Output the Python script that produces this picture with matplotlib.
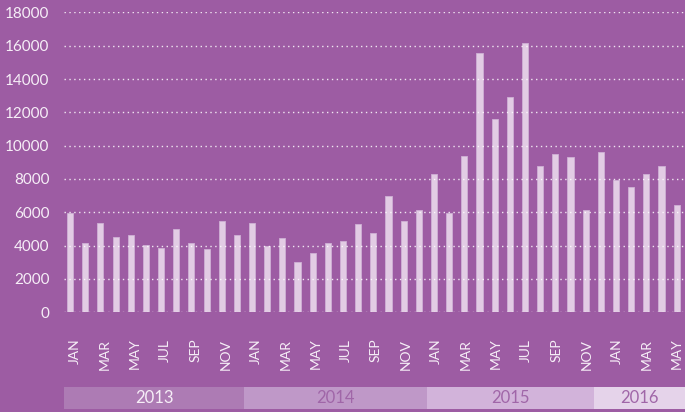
import matplotlib
matplotlib.use("Agg")
import matplotlib.pyplot as plt
import matplotlib.transforms as mtransforms

# monthly values, Jan 2013 .. May 2016
values = [5950, 4150, 5380, 4540, 4620, 4060, 3860, 5000, 4150, 3780, 5460, 4620,
          5380, 3980, 4440, 3020, 3580, 4140, 4260, 5280, 4740, 6960, 5480, 6120,
          8300, 5940, 9400, 15540, 11580, 12900, 16180, 8760, 9520, 9320, 6120,
          9600, 7920, 7540, 8300, 8760, 6420]
month_names = ["JAN", "FEB", "MAR", "APR", "MAY", "JUN",
               "JUL", "AUG", "SEP", "OCT", "NOV", "DEC"]
years = ["2013", "2014", "2015", "2016"]
y_ticks = [0, 2000, 4000, 6000, 8000, 10000, 12000, 14000, 16000, 18000]

# layout / style
bg = "#9d5ca3"
bar_color = "#e2cce4"
band_colors = ["#ad7bb4", "#bf98c8", "#d2b3da", "#e5d3ea"]
band_text = ["#f6eef7", "#a066a8", "#a066a8", "#a066a8"]
band_edges = [-0.4, 11.47, 23.53, 34.54, 40.6]

plt.rcParams["font.family"] = ["Lato", "DejaVu Sans"]

fig = plt.figure(figsize=(6.85, 4.12), dpi=100, facecolor=bg)
ax = fig.add_axes([0.0934, 0.242, 0.9066, 0.728], facecolor=bg)

n = len(values)
x = list(range(n))
ax.bar(x, values, width=0.4, color=bar_color, edgecolor="#cfb0d5", linewidth=0.6, zorder=2)

for t in y_ticks:
    ax.axhline(t, color="white", linestyle=(0, (1, 2.5)), linewidth=1.0, alpha=0.85, zorder=3)

ax.set_xlim(-0.4, 40.55)
ax.set_ylim(0, 18000)
ax.set_yticks(y_ticks)
ax.set_yticklabels([str(t) for t in y_ticks])
ax.tick_params(axis="y", length=0, pad=10.5, labelsize=11, labelcolor="#f6eef7")
ax.set_xticks([])
for s in ax.spines.values():
    s.set_visible(False)

trans = mtransforms.blended_transform_factory(ax.transData, ax.transAxes)

# month labels, every other month
for i in x:
    if i % 2 == 0:
        shift = 0.33 * (n - 1 - i) / (n - 1)
        ax.text(i + shift, -0.088, month_names[i % 12], transform=trans, rotation=90,
                ha="center", va="top", fontsize=10, color="#f6eef7")

# year bands
for k, yr in enumerate(years):
    x0, x1 = band_edges[k], band_edges[k + 1]
    r = plt.Rectangle((x0, -0.323), x1 - x0, 0.075, transform=trans,
                      facecolor=band_colors[k], edgecolor="none", clip_on=False)
    ax.add_patch(r)
    ax.text((x0 + x1) / 2, -0.2855, yr, transform=trans, ha="center", va="center",
            fontsize=12, color=band_text[k])

fig.savefig("out.png", dpi=100, facecolor=bg)
